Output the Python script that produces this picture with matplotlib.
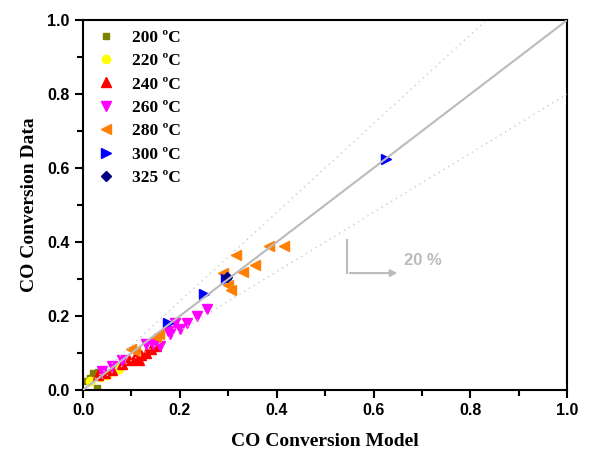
import numpy as np
import matplotlib.pyplot as plt

# model (x) vs data (y) CO conversion, one pair of lists per temperature
x200 = [0.008, 0.015, 0.02, 0.03, 0.028]
y200 = [0.025, 0.032, 0.045, 0.048, 0.005]
x220 = [0.015, 0.035, 0.05, 0.065, 0.075]
y220 = [0.025, 0.035, 0.04, 0.05, 0.058]
x240 = [0.03, 0.045, 0.06, 0.08, 0.095, 0.105, 0.11, 0.115, 0.12, 0.13, 0.14, 0.15]
y240 = [0.04, 0.045, 0.055, 0.07, 0.08, 0.085, 0.09, 0.08, 0.095, 0.1, 0.11, 0.12]
x260 = [0.04, 0.06, 0.08, 0.13, 0.145, 0.16, 0.175, 0.18, 0.19, 0.2, 0.215, 0.235, 0.255]
y260 = [0.05, 0.065, 0.08, 0.125, 0.125, 0.12, 0.16, 0.15, 0.18, 0.165, 0.18, 0.2, 0.22]
x280 = [0.1, 0.107, 0.15, 0.157, 0.29, 0.3, 0.305, 0.315, 0.33, 0.355, 0.385, 0.415]
y280 = [0.11, 0.105, 0.143, 0.15, 0.315, 0.285, 0.27, 0.365, 0.32, 0.337, 0.39, 0.39]
x300 = [0.175, 0.25, 0.295, 0.625]
y300 = [0.18, 0.26, 0.3, 0.625]
x325 = [0.297]
y325 = [0.305]

labels = ['200 ºC', '220 ºC', '240 ºC', '260 ºC', '280 ºC', '300 ºC', '325 ºC']
xs = [x200, x220, x240, x260, x280, x300, x325]
ys = [y200, y220, y240, y260, y280, y300, y325]
markers = ['s', 'o', '^', 'v', '<', '>', 'D']
colors = ['#808000', '#ffff00', '#ff0000', '#ff00ff', '#ff8000', '#0000ff', '#000080']
sizes = [5, 6, 7, 7, 7, 7, 5.5]

fig = plt.figure(figsize=(5.95, 4.54), dpi=100)
ax = fig.add_axes([0.1395, 0.141, 0.814, 0.815])

for x, y, m, c, s, l in zip(xs, ys, markers, colors, sizes, labels):
    ax.plot(x, y, m, color=c, ms=s, mec=c, label=l, zorder=2)

t = np.array([0, 1.0])
ax.plot(t, t, color='#bbbbbb', lw=1.5, zorder=3)
ax.plot(t, 1.2 * t, color='#cccccc', lw=1, ls=(0, (1, 3)), zorder=3)
ax.plot(t, 0.8 * t, color='#cccccc', lw=1, ls=(0, (1, 3)), zorder=3)

# 20 % arrow
ax.plot([0.546, 0.546], [0.405, 0.316], color='#bbbbbb', lw=1.5)
ax.annotate('', xy=(0.655, 0.316), xytext=(0.545, 0.316),
            arrowprops=dict(arrowstyle='-|>', color='#bbbbbb', lw=1.5))
ax.text(0.663, 0.35, '20 %', color='#bbbbbb', fontsize=12, fontweight='bold',
        family='Liberation Sans', va='center')

ax.set_xlim(0, 1)
ax.set_ylim(0, 1)
ax.set_xticks(np.arange(0, 1.01, 0.2))
ax.set_yticks(np.arange(0, 1.01, 0.2))
ax.set_xticks(np.arange(0.1, 1, 0.2), minor=True)
ax.set_yticks(np.arange(0.1, 1, 0.2), minor=True)
ax.tick_params(which='major', direction='out', length=6, width=1.5, labelsize=11.5)
ax.tick_params(which='minor', direction='out', length=4, width=1.5)
for lab in ax.get_xticklabels() + ax.get_yticklabels():
    lab.set_family('Liberation Sans')
    lab.set_fontweight('bold')
for sp in ax.spines.values():
    sp.set_linewidth(1.5)

ax.set_xlabel('CO Conversion Model', family='Liberation Serif', fontweight='bold',
              fontsize=14, labelpad=11)
ax.set_ylabel('CO Conversion Data', family='Liberation Serif', fontweight='bold',
              fontsize=14, labelpad=7)

leg = ax.legend(loc='upper left', frameon=False, handletextpad=0.8,
                labelspacing=0.42, borderaxespad=0.15, handlelength=1.5,
                prop={'family': 'Liberation Serif', 'weight': 'bold', 'size': 12.5})

fig.savefig('out.png', dpi=100)
